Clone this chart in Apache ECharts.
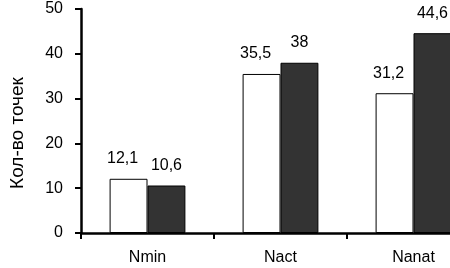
<!DOCTYPE html>
<html><head><meta charset="utf-8">
<script src="https://cdn.jsdelivr.net/npm/echarts@6/dist/echarts.min.js"></script>
<style>html,body{margin:0;padding:0;background:#fff;overflow:hidden;width:450px;height:268px}#c{width:490px;height:268px}</style>
</head><body><div id="c"></div>
<script>
var categories = ['Nmin', 'Nact', 'Nanat'];
var seriesA = [12.1, 35.5, 31.2];
var seriesB = [10.6, 38, 44.6];
var yTicks = [0, 10, 20, 30, 40, 50];

var chart = echarts.init(document.getElementById('c'));
var font = 'Liberation Sans, Arial, sans-serif';
function fmt(p){ return String(p.value).replace('.', ','); }
chart.setOption({
  animation: false,
  grid: { left: 71, width: 409, top: 9, height: 224, containLabel: false },
  xAxis: {
    type: 'category', data: categories,
    axisLine: { lineStyle: { color: '#000', width: 2.5 } },
    axisTick: { show: true, length: 6, lineStyle: { color: '#000', width: 2 } },
    axisLabel: { color: '#000', fontFamily: font, fontSize: 16, margin: 17 }
  },
  yAxis: {
    type: 'value', min: yTicks[0], max: yTicks[yTicks.length-1], interval: 10,
    name: 'Кол-во точек', nameLocation: 'middle', nameGap: 54,
    nameTextStyle: { color: '#000', fontFamily: font, fontSize: 19, padding: [0, 24, 0, 0] },
    axisLine: { show: true, lineStyle: { color: '#000', width: 2.5 } },
    axisTick: { show: true, length: 6, lineStyle: { color: '#000', width: 2 } },
    axisLabel: { color: '#000', fontFamily: font, fontSize: 16, margin: 18 },
    splitLine: { show: false }
  },
  series: [
    { type: 'bar', data: seriesA, barGap: '0%', barCategoryGap: '43%',
      itemStyle: { color: '#fff', borderColor: '#000', borderWidth: 1 },
      label: { show: true, position: 'top', distance: 12, formatter: fmt, color: '#000', fontFamily: font, fontSize: 16, offset: [-6, 0] } },
    { type: 'bar', data: seriesB,
      itemStyle: { color: '#333333', borderColor: '#000', borderWidth: 1 },
      label: { show: true, position: 'top', distance: 12, formatter: fmt, color: '#000', fontFamily: font, fontSize: 16 } }
  ]
});
</script></body></html>
